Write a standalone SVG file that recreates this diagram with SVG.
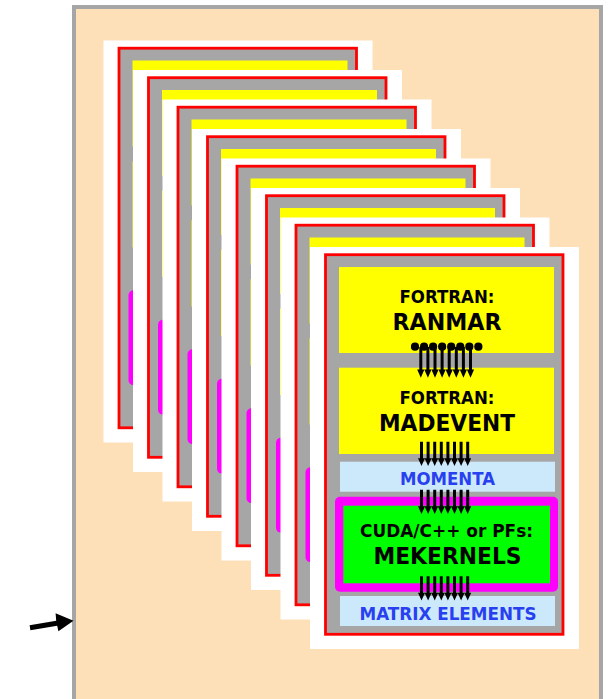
<svg xmlns="http://www.w3.org/2000/svg" xmlns:xlink="http://www.w3.org/1999/xlink" width="613" height="699" viewBox="0 0 613 699">
<style>
.panel{fill:#fde0b8;stroke:#a6a6a6;stroke-width:4}
.white{fill:#ffffff}
.frame{fill:#a6a6a6;stroke:#ff0000;stroke-width:2.8}
.yel{fill:#ffff00}
.lb{fill:#cce9fb}
.mag{fill:#ff00ff}
.grn{fill:#00ff00}
.t{font-family:"DejaVu Sans","Liberation Sans",sans-serif;font-weight:bold;text-anchor:middle;fill:#000}
.tb{fill:#2840f0}
.s{font-size:18px}
.b{font-size:23px}
.ink{fill:#000}
</style>
<defs>
<g id="cardbg">
<rect class="white" x="310" y="247" width="269" height="402"/>
<rect class="frame" x="325.5" y="254.7" width="237.5" height="379.6"/>
<rect class="yel" x="339" y="267" width="215" height="86"/>
<rect class="yel" x="339" y="367.7" width="215" height="86.3"/>
<rect class="lb" x="340" y="461.7" width="215" height="30"/>
<rect class="mag" x="335" y="496.7" width="223" height="95" rx="5"/>
<rect class="grn" x="343.3" y="505.7" width="206.7" height="77.6"/>
<rect class="lb" x="340" y="596" width="215" height="30"/>
</g>
<path id="arw" class="ink" d="M-1.5,0 h3 v16.6 h2 l-3.5,7.8 l-3.5,-7.8 h2 z"/>
<path id="arw1" class="ink" d="M-1.5,0 h3 v22.5 h2.1 l-3.6,8.2 l-3.6,-8.2 h2.1 z"/>
<g id="row8">
<use xlink:href="#arw" x="421.5" y="0"/>
<use xlink:href="#arw" x="428.1" y="0"/>
<use xlink:href="#arw" x="434.7" y="0"/>
<use xlink:href="#arw" x="441.3" y="0"/>
<use xlink:href="#arw" x="447.9" y="0"/>
<use xlink:href="#arw" x="454.5" y="0"/>
<use xlink:href="#arw" x="461.1" y="0"/>
<use xlink:href="#arw" x="467.7" y="0"/>
</g>
</defs>

<rect id="panel" class="panel" x="74" y="7" width="527" height="720"/>

<g id="card8"><use xlink:href="#cardbg" transform="translate(-206.5,-206.5)"/></g>
<g id="card7"><use xlink:href="#cardbg" transform="translate(-177,-177)"/></g>
<g id="card6"><use xlink:href="#cardbg" transform="translate(-147.5,-147.5)"/></g>
<g id="card5"><use xlink:href="#cardbg" transform="translate(-118,-118)"/></g>
<g id="card4"><use xlink:href="#cardbg" transform="translate(-88.5,-88.5)"/></g>
<g id="card3"><use xlink:href="#cardbg" transform="translate(-59,-59)"/></g>
<g id="card2"><use xlink:href="#cardbg" transform="translate(-29.5,-29.5)"/></g>

<g id="card1">
<use xlink:href="#cardbg"/>
<g id="ranmar">
<text class="t s" x="447" y="303" textLength="95" lengthAdjust="spacingAndGlyphs">FORTRAN:</text>
<text class="t b" x="447" y="330" textLength="109" lengthAdjust="spacingAndGlyphs">RANMAR</text>
</g>
<g id="madevent">
<text class="t s" x="447" y="403.5" textLength="95" lengthAdjust="spacingAndGlyphs">FORTRAN:</text>
<text class="t b" x="447" y="430.5" textLength="136" lengthAdjust="spacingAndGlyphs">MADEVENT</text>
</g>
<g id="momenta">
<text class="t s tb" x="447.5" y="484.5" textLength="95" lengthAdjust="spacingAndGlyphs">MOMENTA</text>
</g>
<g id="mekernels">
<text class="t s" x="446.5" y="536.5" textLength="173" lengthAdjust="spacingAndGlyphs">CUDA/C++ or PFs:</text>
<text class="t b" x="447.5" y="563.5" textLength="148" lengthAdjust="spacingAndGlyphs">MEKERNELS</text>
</g>
<g id="matrix">
<text class="t s tb" x="448" y="619.5" textLength="177" lengthAdjust="spacingAndGlyphs">MATRIX ELEMENTS</text>
</g>
</g>

<g id="connectors">
<g id="rng-flow">
<circle class="ink" cx="415" cy="346.7" r="4.1"/>
<circle class="ink" cx="424.05" cy="346.7" r="4.1"/>
<circle class="ink" cx="433.1" cy="346.7" r="4.1"/>
<circle class="ink" cx="442.15" cy="346.7" r="4.1"/>
<circle class="ink" cx="451.2" cy="346.7" r="4.1"/>
<circle class="ink" cx="460.25" cy="346.7" r="4.1"/>
<circle class="ink" cx="469.3" cy="346.7" r="4.1"/>
<circle class="ink" cx="478.35" cy="346.7" r="4.1"/>
<use xlink:href="#arw1" x="420.8" y="347"/>
<use xlink:href="#arw1" x="427.9" y="347"/>
<use xlink:href="#arw1" x="435" y="347"/>
<use xlink:href="#arw1" x="442.1" y="347"/>
<use xlink:href="#arw1" x="449.2" y="347"/>
<use xlink:href="#arw1" x="456.3" y="347"/>
<use xlink:href="#arw1" x="463.4" y="347"/>
<use xlink:href="#arw1" x="470.5" y="347"/>
</g>
<use xlink:href="#row8" transform="translate(0,441.7)"/>
<use xlink:href="#row8" transform="translate(0,489.7)"/>
<use xlink:href="#row8" transform="translate(0,576.2)"/>
<path id="entry-arrow" class="ink" d="M29.6,625.2 L56.2,620.8 L55.6,613.3 L73.5,620.7 L58.4,631.2 L57.2,625.8 L30.4,630.2 Z"/>
</g>
</svg>
